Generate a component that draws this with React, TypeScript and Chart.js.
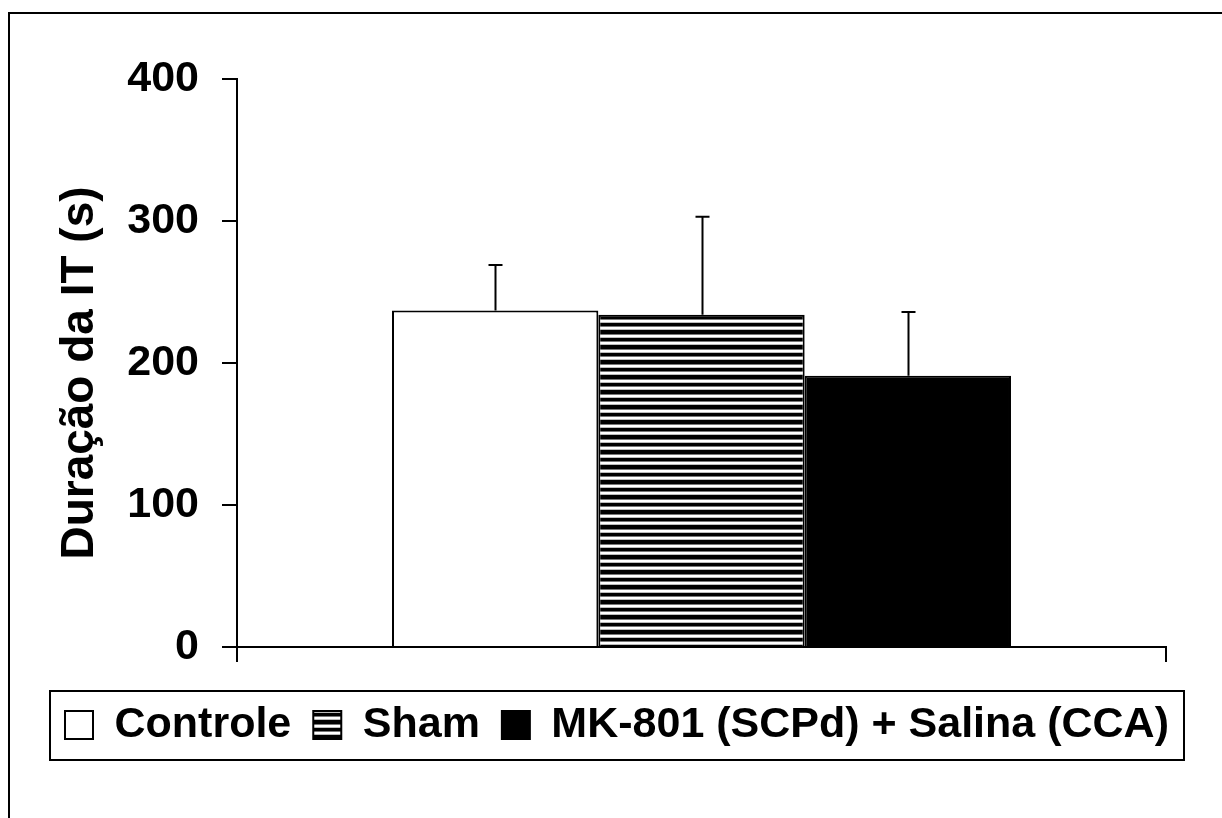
import React, { useEffect, useRef } from "react";
import { Chart, registerables } from "chart.js";

Chart.register(...registerables);

const categories = ["Duração da IT"];
const seriesNames = ["Controle", "Sham", "MK-801 (SCPd) + Salina (CCA)"];
const controleValues = [237];
const shamValues = [234];
const mkValues = [191];
const controleErrors = [32];
const shamErrors = [69];
const mkErrors = [45];
const yMin = 0;
const yMax = 400;
const yStep = 100;
const yTitle = "Duração da IT (s)";

const FONT = "'Liberation Sans', Arial, Helvetica, sans-serif";

function makeStripePattern(): CanvasPattern | string {
  const rows = [
    "#000", "#000", "#000", "#000", "#777", "#fff", "#fff", "#bbb",
    "#000", "#000", "#000", "#777", "#fff", "#fff", "#bbb",
  ];
  const c = document.createElement("canvas");
  c.width = 8;
  c.height = rows.length;
  const g = c.getContext("2d");
  if (!g) return "#000";
  rows.forEach((col, i) => {
    g.fillStyle = col;
    g.fillRect(0, i, 8, 1);
  });
  const ctx = document.createElement("canvas").getContext("2d");
  const p = ctx ? ctx.createPattern(c, "repeat") : null;
  return p || "#000";
}

const errorBarPlugin = {
  id: "errorBars",
  afterDatasetsDraw(chart: any) {
    const { ctx } = chart;
    const yScale = chart.scales.y;
    ctx.save();
    ctx.strokeStyle = "#000";
    ctx.lineWidth = 2;
    chart.data.datasets.forEach((ds: any, i: number) => {
      const meta = chart.getDatasetMeta(i);
      meta.data.forEach((bar: any, j: number) => {
        const v = ds.data[j];
        const e = ds.errors ? ds.errors[j] : 0;
        const x = Math.round(bar.x) + 0.5;
        const yTop = yScale.getPixelForValue(v);
        const yErr = yScale.getPixelForValue(v + e);
        ctx.beginPath();
        ctx.moveTo(x, yTop);
        ctx.lineTo(x, yErr);
        ctx.moveTo(x - 7, yErr);
        ctx.lineTo(x + 7, yErr);
        ctx.stroke();
      });
    });
    ctx.restore();
  },
};

const decorPlugin = {
  id: "decor",
  afterDraw(chart: any) {
    const { ctx } = chart;
    ctx.save();
    ctx.fillStyle = "#000";
    ctx.font = `bold 46px ${FONT}`;
    ctx.textAlign = "center";
    ctx.textBaseline = "alphabetic";
    const cy = (chart.chartArea.top + chart.chartArea.bottom) / 2 + 10;
    ctx.translate(93, cy);
    ctx.rotate(-Math.PI / 2);
    ctx.fillText(yTitle, 0, 0);
    ctx.restore();

    const legend = chart.legend;
    if (legend && legend.legendHitBoxes && legend.legendHitBoxes.length) {
      const hb = legend.legendHitBoxes;
      const first = hb[0];
      const last = hb[hb.length - 1];
      const left = first.left - 15;
      const right = last.left + last.width + 15;
      const midY = first.top + first.height / 2;
      ctx.save();
      ctx.strokeStyle = "#000";
      ctx.lineWidth = 2;
      ctx.strokeRect(Math.round(left), Math.round(midY - 34.5), Math.round(right - left), 69);
      ctx.restore();
    }
  },
};

export default function App() {
  const canvasRef = useRef<HTMLCanvasElement | null>(null);

  useEffect(() => {
    if (!canvasRef.current) return;
    const stripes = makeStripePattern();
    const chart = new Chart(canvasRef.current, {
      type: "bar",
      data: {
        labels: categories,
        datasets: [
          {
            label: seriesNames[0],
            data: controleValues,
            errors: controleErrors,
            backgroundColor: "#ffffff",
            borderColor: "#000000",
            borderWidth: 2,
          } as any,
          {
            label: seriesNames[1],
            data: shamValues,
            errors: shamErrors,
            backgroundColor: stripes,
            borderColor: "#000000",
            borderWidth: 2,
          } as any,
          {
            label: seriesNames[2],
            data: mkValues,
            errors: mkErrors,
            backgroundColor: "#000000",
            borderColor: "#000000",
            borderWidth: 2,
          } as any,
        ],
      },
      options: {
        responsive: false,
        animation: false,
        devicePixelRatio: 1,
        layout: {
          padding: { left: 12, right: 0, top: 79, bottom: 61.5 },
        },
        datasets: {
          bar: {
            categoryPercentage: 0.6663,
            barPercentage: 1,
          },
        },
        scales: {
          x: {
            type: "category",
            offset: true,
            grid: {
              display: true,
              offset: true,
              drawOnChartArea: false,
              drawTicks: true,
              tickLength: 15,
              color: "#000",
              lineWidth: 2,
            },
            border: { display: true, color: "#000", width: 2 },
            ticks: { display: false },
            afterFit: (s: any) => {
              s.height = 34.5;
            },
          },
          y: {
            min: yMin,
            max: yMax,
            grid: {
              display: true,
              drawOnChartArea: false,
              drawTicks: true,
              tickLength: 15,
              color: "#000",
              lineWidth: 2,
            },
            border: { display: true, color: "#000", width: 2 },
            ticks: {
              stepSize: yStep,
              padding: 23,
              color: "#000",
              font: { family: FONT, size: 43, weight: "bold" },
            },
            afterFit: (s: any) => {
              s.width = 225;
            },
          },
          yRight: {
            position: "right",
            display: true,
            min: yMin,
            max: yMax,
            grid: { display: false, drawTicks: false },
            border: { display: false },
            ticks: { display: false },
            afterFit: (s: any) => {
              s.width = 56;
            },
          },
        },
        plugins: {
          legend: {
            display: true,
            position: "bottom",
            labels: {
              boxWidth: 28,
              boxHeight: 28,
              padding: 22,
              color: "#000",
              font: { family: FONT, size: 43, weight: "bold" },
            },
          },
          tooltip: { enabled: false },
          title: { display: false },
        },
      } as any,
      plugins: [errorBarPlugin, decorPlugin],
    });
    return () => {
      chart.destroy();
    };
  }, []);

  return (
    <div
      style={{
        position: "fixed",
        left: 0,
        top: 0,
        width: 1222,
        height: 818,
        background: "#fff",
      }}
    >
      <canvas ref={canvasRef} width={1222} height={818} style={{ display: "block" }} />
      <div
        style={{
          position: "absolute",
          left: 8,
          top: 12,
          right: 0,
          bottom: 0,
          borderTop: "2px solid #000",
          borderLeft: "2px solid #000",
          pointerEvents: "none",
        }}
      />
    </div>
  );
}
